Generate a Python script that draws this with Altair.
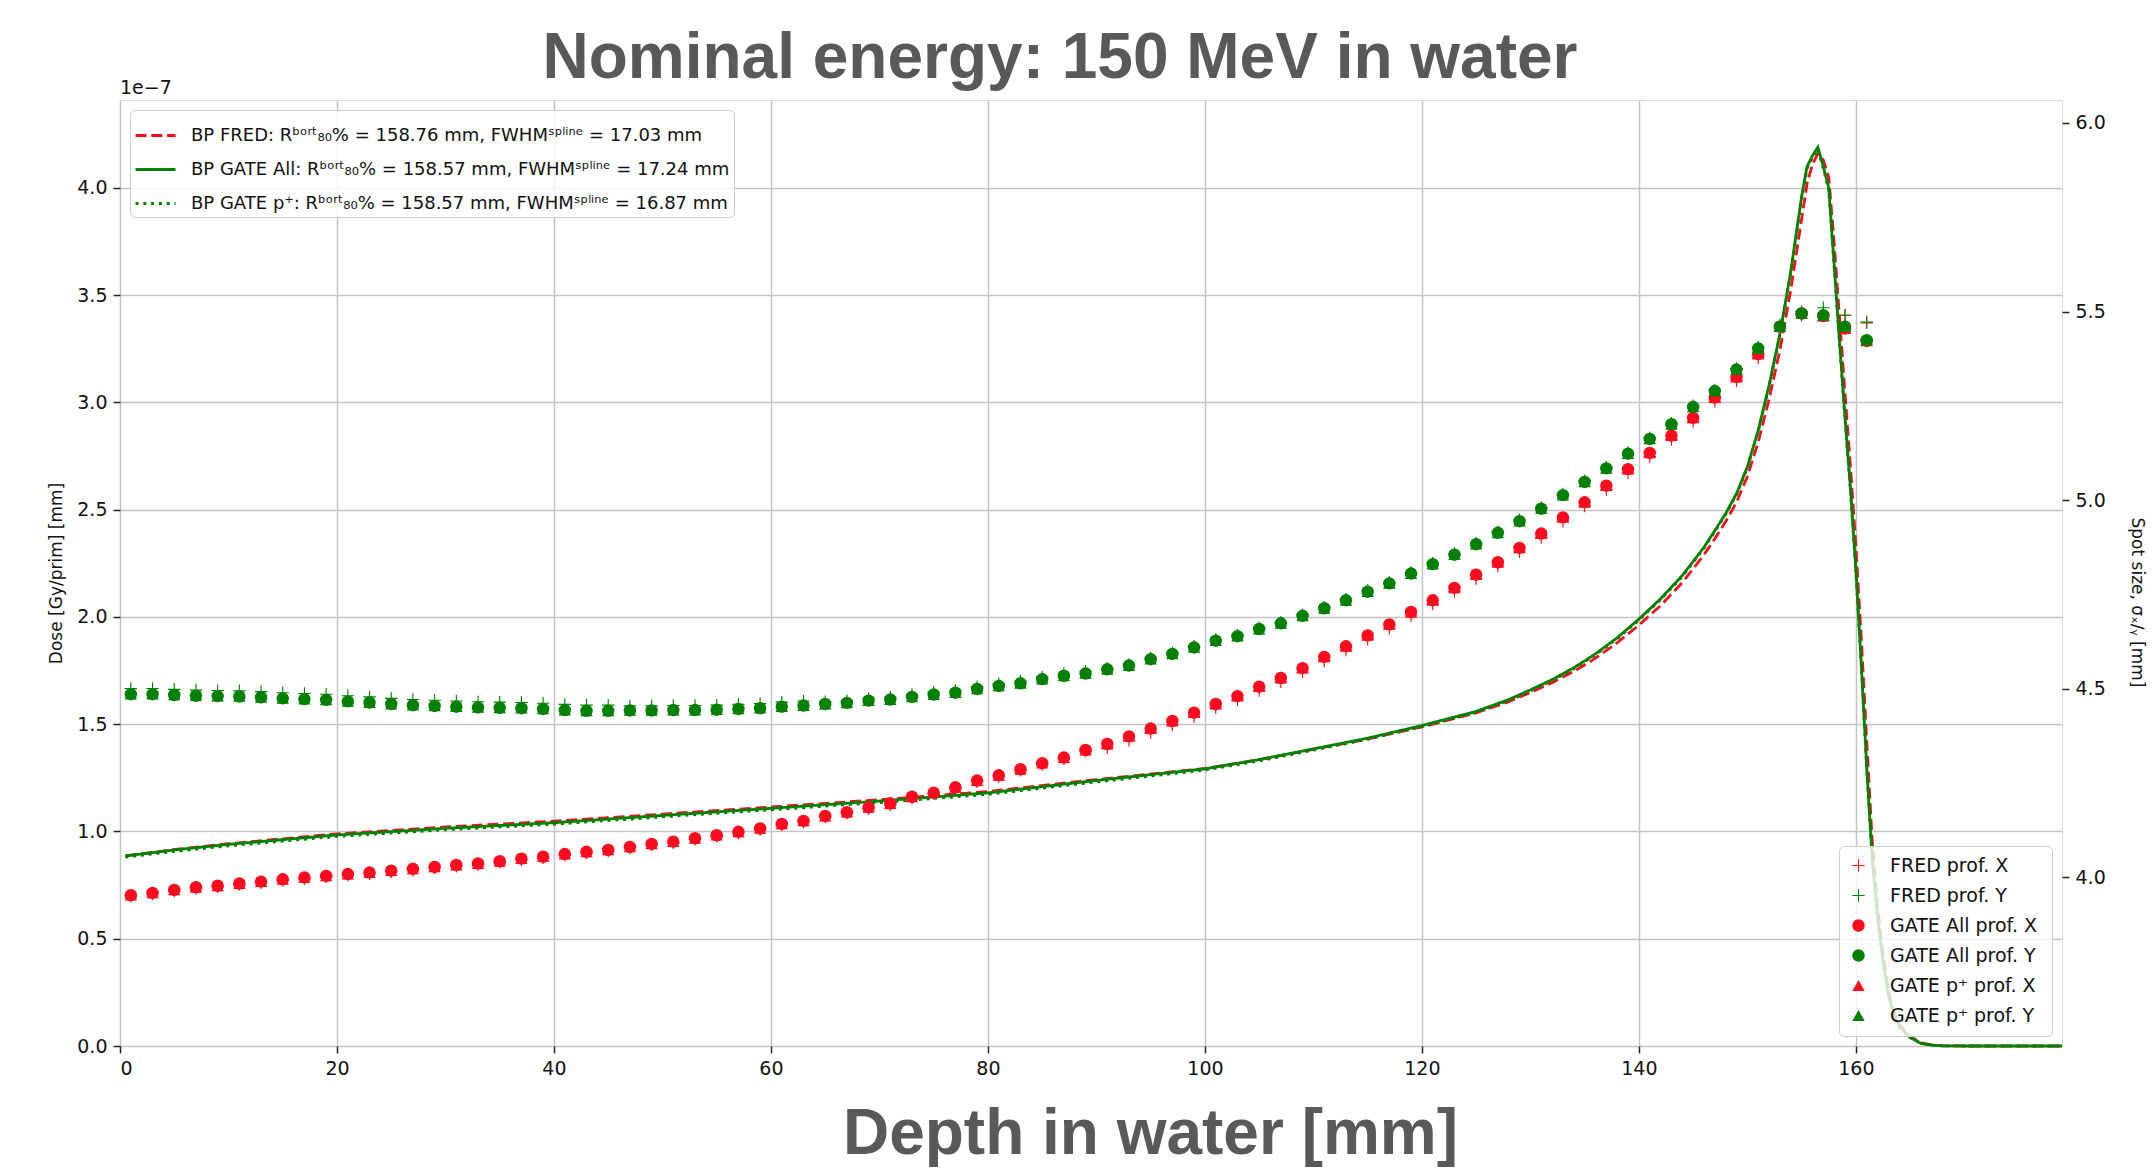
import altair as alt
import pandas as pd

# ---------------- data (dose in units of 1e-7 Gy/prim, spot size in mm) ----------------
CURVE_DEPTH = [0.5, 5, 10, 15, 20, 30, 40, 50, 60, 70, 80, 90, 100, 105, 110, 115, 120, 125,
               128, 130, 132, 134, 136, 138, 140, 142, 144, 146, 147, 148, 149, 150, 151, 152,
               153, 154, 155, 155.5, 156, 156.5, 157, 157.5, 158, 158.5, 159, 159.5, 160, 160.5,
               161, 161.5, 162, 162.5, 163, 163.5, 164, 165, 166, 167, 168, 170, 179]

DOSE_FRED = [0.886, 0.916, 0.943, 0.966, 0.989, 1.021, 1.048, 1.081, 1.114, 1.148, 1.186, 1.242,
             1.294, 1.335, 1.383, 1.431, 1.488, 1.553, 1.605, 1.648, 1.694, 1.746, 1.808, 1.880,
             1.962, 2.053, 2.160, 2.290, 2.365, 2.445, 2.535, 2.655, 2.815, 3.015, 3.245, 3.525,
             3.855, 4.020, 4.110, 4.160, 4.130, 4.050, 3.740, 3.390, 3.040, 2.700, 2.330, 1.900,
             1.420, 0.960, 0.650, 0.430, 0.260, 0.160, 0.100, 0.045, 0.015, 0.005, 0.001, 0.0, 0.0]

DOSE_GATE_ALL = [0.886, 0.914, 0.940, 0.962, 0.984, 1.015, 1.041, 1.075, 1.108, 1.142, 1.180, 1.238,
                 1.292, 1.335, 1.385, 1.435, 1.494, 1.560, 1.615, 1.660, 1.708, 1.763, 1.828, 1.903,
                 1.990, 2.085, 2.193, 2.325, 2.403, 2.482, 2.575, 2.700, 2.870, 3.080, 3.320, 3.610,
                 3.960, 4.100, 4.150, 4.190, 4.100, 4.000, 3.640, 3.280, 2.930, 2.600, 2.220, 1.780,
                 1.300, 0.880, 0.600, 0.400, 0.240, 0.150, 0.090, 0.040, 0.012, 0.004, 0.001, 0.0, 0.0]

DOSE_GATE_P = [0.880, 0.907, 0.933, 0.955, 0.977, 1.008, 1.034, 1.068, 1.101, 1.135, 1.173, 1.231,
               1.286, 1.329, 1.379, 1.430, 1.489, 1.555, 1.610, 1.655, 1.703, 1.758, 1.823, 1.898,
               1.985, 2.080, 2.188, 2.320, 2.398, 2.477, 2.570, 2.695, 2.865, 3.075, 3.315, 3.605,
               3.950, 4.090, 4.140, 4.180, 4.090, 3.990, 3.630, 3.270, 2.920, 2.590, 2.210, 1.770,
               1.290, 0.870, 0.590, 0.390, 0.235, 0.145, 0.088, 0.039, 0.012, 0.004, 0.001, 0.0, 0.0]

SPOT_DEPTH = [1, 3, 5, 7, 9, 11, 13, 15, 17, 19, 21, 23, 25, 27, 29, 31, 33, 35, 37, 39, 41, 43, 45,
              47, 49, 51, 53, 55, 57, 59, 61, 63, 65, 67, 69, 71, 73, 75, 77, 79, 81, 83, 85, 87, 89,
              91, 93, 95, 97, 99, 101, 103, 105, 107, 109, 111, 113, 115, 117, 119, 121, 123, 125,
              127, 129, 131, 133, 135, 137, 139, 141, 143, 145, 147, 149, 151, 153, 155, 157, 159, 161]

FRED_X = [3.949, 3.955, 3.963, 3.970, 3.974, 3.980, 3.985, 3.991, 3.996, 4.000, 4.005, 4.009, 4.014,
          4.019, 4.024, 4.029, 4.033, 4.039, 4.046, 4.051, 4.058, 4.064, 4.069,
          4.077, 4.085, 4.091, 4.100, 4.108, 4.117, 4.126, 4.138, 4.146, 4.159, 4.169, 4.182, 4.192,
          4.210, 4.221, 4.235, 4.253, 4.267, 4.283, 4.299, 4.314, 4.334,
          4.343, 4.363, 4.384, 4.404, 4.426, 4.449, 4.470, 4.495, 4.518, 4.544, 4.574, 4.602, 4.631,
          4.660, 4.693, 4.724, 4.757, 4.792, 4.825, 4.863, 4.901, 4.944, 4.984, 5.028, 5.072, 5.115,
          5.161, 5.208, 5.262, 5.316, 5.377, 5.455, 5.490, 5.495, 5.490, 5.470]

FRED_Y = [4.500, 4.500, 4.498, 4.496, 4.495, 4.494, 4.492, 4.489, 4.487, 4.485, 4.481, 4.478, 4.474,
          4.471, 4.469, 4.467, 4.465, 4.464, 4.463, 4.461, 4.458, 4.456, 4.456,
          4.454, 4.454, 4.455, 4.455, 4.456, 4.458, 4.460, 4.464, 4.467, 4.465, 4.468, 4.474, 4.477,
          4.484, 4.490, 4.495, 4.505, 4.513, 4.520, 4.531, 4.540, 4.546,
          4.554, 4.564, 4.581, 4.595, 4.612, 4.630, 4.642, 4.661, 4.676, 4.696, 4.716, 4.737, 4.760,
          4.782, 4.808, 4.833, 4.858, 4.886, 4.916, 4.947, 4.980, 5.016, 5.051, 5.087, 5.126, 5.165,
          5.204, 5.250, 5.292, 5.349, 5.405, 5.465, 5.500, 5.510, 5.490, 5.472]

GATE_ALL_X = [3.952, 3.958, 3.966, 3.973, 3.977, 3.983, 3.988, 3.994, 3.999, 4.003, 4.008, 4.012, 4.017,
              4.022, 4.027, 4.032, 4.036, 4.042, 4.049, 4.054, 4.061, 4.067, 4.072,
              4.080, 4.088, 4.094, 4.103, 4.111, 4.120, 4.129, 4.141, 4.149, 4.162, 4.172, 4.185, 4.195,
              4.213, 4.224, 4.238, 4.256, 4.270, 4.286, 4.302, 4.317, 4.337,
              4.353, 4.373, 4.394, 4.414, 4.436, 4.459, 4.480, 4.505, 4.528, 4.554, 4.584, 4.612, 4.641,
              4.670, 4.703, 4.734, 4.767, 4.802, 4.835, 4.873, 4.911, 4.954, 4.994, 5.038, 5.082, 5.125,
              5.171, 5.218, 5.272, 5.326, 5.387, 5.460, 5.495, 5.488, 5.455, 5.422]

GATE_ALL_Y = [4.485, 4.485, 4.483, 4.481, 4.480, 4.479, 4.477, 4.474, 4.472, 4.470, 4.466, 4.463, 4.459,
              4.456, 4.454, 4.452, 4.450, 4.449, 4.448, 4.446, 4.443, 4.441, 4.441,
              4.442, 4.442, 4.443, 4.443, 4.444, 4.446, 4.448, 4.452, 4.455, 4.459, 4.462, 4.468, 4.471,
              4.478, 4.484, 4.489, 4.499, 4.507, 4.514, 4.525, 4.534, 4.540,
              4.551, 4.561, 4.578, 4.592, 4.609, 4.627, 4.639, 4.658, 4.673, 4.693, 4.713, 4.734, 4.757,
              4.779, 4.805, 4.830, 4.855, 4.883, 4.913, 4.944, 4.977, 5.013, 5.048, 5.084, 5.123, 5.162,
              5.201, 5.247, 5.289, 5.346, 5.402, 5.460, 5.495, 5.490, 5.460, 5.424]

GATE_P_X = [3.952, 3.958, 3.966, 3.973, 3.977, 3.983, 3.988, 3.994, 3.999, 4.003, 4.008, 4.012, 4.017,
            4.022, 4.027, 4.032, 4.036, 4.042, 4.049, 4.054, 4.061, 4.067, 4.072,
            4.080, 4.088, 4.094, 4.103, 4.111, 4.120, 4.129, 4.141, 4.149, 4.162, 4.172, 4.185, 4.195,
            4.213, 4.224, 4.238, 4.256, 4.270, 4.286, 4.302, 4.317, 4.337,
            4.353, 4.373, 4.394, 4.414, 4.436, 4.459, 4.480, 4.505, 4.528, 4.554, 4.584, 4.612, 4.641,
            4.670, 4.703, 4.734, 4.767, 4.802, 4.835, 4.873, 4.911, 4.954, 4.994, 5.038, 5.082, 5.125,
            5.171, 5.218, 5.272, 5.326, 5.387, 5.460, 5.495, 5.488, 5.455, 5.422]

GATE_P_Y = [4.485, 4.485, 4.483, 4.481, 4.480, 4.479, 4.477, 4.474, 4.472, 4.470, 4.466, 4.463, 4.459,
            4.456, 4.454, 4.452, 4.450, 4.449, 4.448, 4.446, 4.443, 4.441, 4.441,
            4.442, 4.442, 4.443, 4.443, 4.444, 4.446, 4.448, 4.452, 4.455, 4.459, 4.462, 4.468, 4.471,
            4.478, 4.484, 4.489, 4.499, 4.507, 4.514, 4.525, 4.534, 4.540,
            4.551, 4.561, 4.578, 4.592, 4.609, 4.627, 4.639, 4.658, 4.673, 4.693, 4.713, 4.734, 4.757,
            4.779, 4.805, 4.830, 4.855, 4.883, 4.913, 4.944, 4.977, 5.013, 5.048, 5.084, 5.123, 5.162,
            5.201, 5.247, 5.289, 5.346, 5.402, 5.460, 5.495, 5.490, 5.460, 5.424]

LINE_LABELS = [
    "BP FRED: R\u1d47\u1d52\u02b3\u1d57\u2088\u2080% = 158.76 mm, FWHM\u02e2\u1d56\u02e1\u2071\u207f\u1d49 = 17.03 mm",
    "BP GATE All: R\u1d47\u1d52\u02b3\u1d57\u2088\u2080% = 158.57 mm, FWHM\u02e2\u1d56\u02e1\u2071\u207f\u1d49 = 17.24 mm",
    "BP GATE p\u207a: R\u1d47\u1d52\u02b3\u1d57\u2088\u2080% = 158.57 mm, FWHM\u02e2\u1d56\u02e1\u2071\u207f\u1d49 = 16.87 mm",
]
POINT_LABELS = ["FRED prof. X", "FRED prof. Y", "GATE All prof. X", "GATE All prof. Y",
                "GATE p\u207a  prof. X", "GATE p\u207a  prof. Y"]

TITLE = "Nominal energy: 150 MeV in water"
X_TITLE = "Depth in water [mm]"
X_TICKS = [0, 20, 40, 60, 80, 100, 120, 140, 160]
DOSE_TICKS = [0.0, 0.5, 1.0, 1.5, 2.0, 2.5, 3.0, 3.5, 4.0]
SPOT_TICKS = [4.0, 4.5, 5.0, 5.5, 6.0]

RED = "#ff0a1e"
GREEN = "#008000"
SLIDE_GREY = "#595959"
CROSS = "M-1,-0.09H-0.09V-1H0.09V-0.09H1V0.09H0.09V1H-0.09V0.09H-1Z"

# ---------------- tables ----------------
line_rows = []
for lab, vals in zip(LINE_LABELS, [DOSE_FRED, DOSE_GATE_ALL, DOSE_GATE_P]):
    for d, v in zip(CURVE_DEPTH, vals):
        line_rows.append({"depth": d, "dose": v, "series": lab})
df_lines = pd.DataFrame(line_rows)

pt_rows = []
for lab, vals in zip(POINT_LABELS, [FRED_X, FRED_Y, GATE_ALL_X, GATE_ALL_Y, GATE_P_X, GATE_P_Y]):
    for d, v in zip(SPOT_DEPTH, vals):
        pt_rows.append({"depth": d, "spot": v, "profile": lab})
df_pts = pd.DataFrame(pt_rows)

W, H = 1942, 946
x_scale = alt.Scale(domain=[0, 179], nice=False, zero=False)

x_axis = alt.Axis(values=X_TICKS, format="d", title=X_TITLE,
                  titleFontSize=64, titleFont="Liberation Sans", titleFontWeight="bold",
                  titleColor=SLIDE_GREY, titleX=1030, titleY=107, titleBaseline="alphabetic",
                  titleAlign="center", titleAnchor="start",
                  labelFontSize=19, labelFont="DejaVu Sans", labelColor="#111", labelPadding=6,
                  tickSize=7, tickWidth=1.5, tickColor="#222", domain=False,
                  grid=True, gridColor="#c4c4c4", gridWidth=1.5)

lines = alt.Chart(df_lines).mark_line(strokeWidth=2.8, strokeCap="butt").encode(
    x=alt.X("depth:Q", scale=x_scale, axis=x_axis),
    y=alt.Y("dose:Q", scale=alt.Scale(domain=[0, 4.41], nice=False),
            axis=alt.Axis(values=DOSE_TICKS, format=".1f", title="Dose [Gy/prim] [mm]",
                          titleFontSize=17, titleFont="DejaVu Sans", titleFontWeight="normal",
                          titleColor="#111", titleAngle=-90, titleX=-64, titleY=H / 2,
                          titleAlign="center", titleBaseline="middle",
                          labelFontSize=19, labelFont="DejaVu Sans", labelColor="#111",
                          labelPadding=6, tickSize=7, tickWidth=1.5, tickColor="#222",
                          domain=False, grid=True, gridColor="#c4c4c4", gridWidth=1.5)),
    color=alt.Color("series:N", sort=LINE_LABELS,
                    scale=alt.Scale(domain=LINE_LABELS, range=[RED, GREEN, GREEN]),
                    legend=alt.Legend(orient="top-left", offset=10, title=None,
                                      labelFont="DejaVu Sans", labelFontSize=18, labelColor="#111",
                                      labelLimit=900, symbolSize=1600, symbolStrokeWidth=2.8,
                                      symbolType="stroke", labelOffset=14, rowPadding=3,
                                      padding=4, fillColor="rgba(255,255,255,0.85)",
                                      strokeColor="#cccccc", cornerRadius=5)),
    strokeDash=alt.StrokeDash("series:N", sort=LINE_LABELS,
                              scale=alt.Scale(domain=LINE_LABELS,
                                              range=[[11, 4.8], [1, 0], [3, 4.8]]),
                              legend=alt.Legend(orient="top-left", offset=10, title=None)),
)

points = alt.Chart(df_pts).mark_point(filled=True, opacity=1, strokeWidth=0).encode(
    x=alt.X("depth:Q", scale=x_scale),
    y=alt.Y("spot:Q", scale=alt.Scale(domain=[3.552, 6.061], nice=False, zero=False),
            axis=alt.Axis(orient="right", values=SPOT_TICKS, format=".1f",
                          title="Spot size, \u03c3\u2093\u2215\u1d67 [mm]",
                          titleFontSize=17, titleFont="DejaVu Sans", titleFontWeight="normal",
                          titleColor="#111", titleAngle=90, titleX=74, titleY=502,
                          titleAlign="center", titleBaseline="middle",
                          labelFontSize=19, labelFont="DejaVu Sans", labelColor="#111",
                          labelPadding=6, tickSize=7, tickWidth=1.5, tickColor="#222",
                          domain=False, grid=False)),
    color=alt.Color("profile:N", sort=POINT_LABELS,
                    scale=alt.Scale(domain=POINT_LABELS, range=[RED, GREEN, RED, GREEN, RED, GREEN]),
                    legend=alt.Legend(orient="bottom-right", offset=10, title=None,
                                      labelFont="DejaVu Sans", labelFontSize=19, labelColor="#111",
                                      symbolSize=200, labelOffset=22, rowPadding=10, padding=10,
                                      fillColor="rgba(255,255,255,0.8)", strokeColor="#cccccc",
                                      cornerRadius=5)),
    shape=alt.Shape("profile:N", sort=POINT_LABELS,
                    scale=alt.Scale(domain=POINT_LABELS,
                                    range=[CROSS, CROSS, "circle", "circle", "triangle-up", "triangle-up"]),
                    legend=alt.Legend(orient="bottom-right", offset=10, title=None)),
    size=alt.Size("profile:N", sort=POINT_LABELS,
                  scale=alt.Scale(domain=POINT_LABELS, range=[155, 155, 215, 215, 235, 235]),
                  legend=None),
)

exp_text = alt.Chart(alt.Data(values=[{"t": "1e\u22127"}])).mark_text(
    align="left", baseline="alphabetic", font="DejaVu Sans", fontSize=19, color="#111"
).encode(x=alt.value(0), y=alt.value(-6), text="t:N")

title_text = alt.Chart(alt.Data(values=[{"t": TITLE}])).mark_text(
    align="center", baseline="alphabetic", font="Liberation Sans", fontSize=64,
    fontWeight="bold", color=SLIDE_GREY
).encode(x=alt.value(940), y=alt.value(-22), text="t:N")

chart = alt.layer(lines, points, exp_text, title_text).resolve_scale(
    y="independent", color="independent", shape="independent", strokeDash="independent",
    size="independent"
).properties(
    width=W, height=H,
    padding={"left": 120, "top": 100, "right": 91, "bottom": 122},
    autosize=alt.AutoSizeParams(type="none"),
).configure_view(stroke="#222", strokeWidth=2).configure(background="white")

chart.save("out.html", embed_options={"renderer": "svg", "actions": False})
